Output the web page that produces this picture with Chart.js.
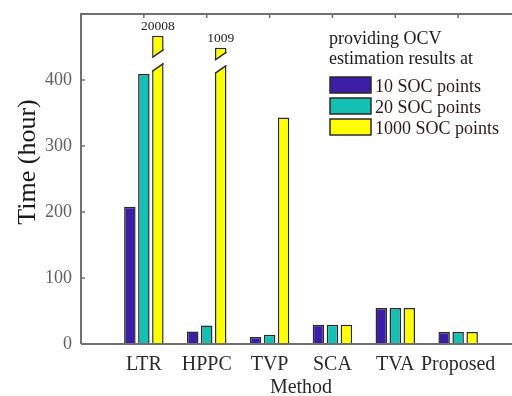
<!DOCTYPE html>
<html>
<head>
<meta charset="utf-8">
<script src="https://cdn.jsdelivr.net/npm/chart.js@4/dist/chart.umd.min.js"></script>
<style>
  html, body { margin: 0; padding: 0; background: #fff; overflow: hidden; }
  #wrap { width: 512px; height: 396px; overflow: hidden; }
  canvas { display: block; }
</style>
</head>
<body>
<div id="wrap"><canvas id="c" width="540" height="396"></canvas></div>
<script>
// ---- data ----
const categories = ['LTR', 'HPPC', 'TVP', 'SCA', 'TVA', 'Proposed'];
const soc10   = [208, 19, 10.5, 29, 54.5, 18];
const soc20   = [409, 28, 14, 29, 54.5, 18];
const soc1000 = [20008, 1009, 343, 29, 54.5, 18];
// broken bars: drawn height on the axis (hours) for values far above the axis
const brokenDrawnTop = { 0: 467, 1: 449 };
const brokenGap = { 0: [419, 440], 1: [416, 436] };
const yTicks = [0, 100, 200, 300, 400];
const seriesLabels = ['10 SOC points', '20 SOC points', '1000 SOC points'];
const legendTitle = ['providing OCV', 'estimation results at'];
const xTitle = 'Method';
const yTitle = 'Time (hour)';

const colors = ['#3c1ea6', '#14bfb3', '#ffff00'];
const edge = '#2a2a2a';
const axisColor = '#707070';
const serif = '"Liberation Serif", "Times New Roman", serif';

const toPts = arr => arr.map((v, i) => ({ x: i + 1, y: v }));
const soc1000Drawn = soc1000.map((v, i) => (i in brokenDrawnTop ? brokenDrawnTop[i] : v));

const decor = {
  id: 'decor',
  afterDatasetsDraw(chart) {
    const ctx = chart.ctx;
    const ys = chart.scales.y;
    const meta = chart.getDatasetMeta(2);
    Object.keys(brokenGap).forEach(k => {
      const i = +k;
      const bar = meta.data[i];
      const p = bar.getProps(['x', 'y', 'width'], true);
      const L = p.x - p.width / 2, R = p.x + p.width / 2;
      const s = 8;
      const yU = ys.getPixelForValue(brokenGap[i][1]);
      const yL = ys.getPixelForValue(brokenGap[i][0]);
      ctx.save();
      ctx.fillStyle = '#fff';
      ctx.beginPath();
      ctx.moveTo(L - 1, yU + s / 2);
      ctx.lineTo(R + 1, yU - s / 2);
      ctx.lineTo(R + 1, yL - s / 2);
      ctx.lineTo(L - 1, yL + s / 2);
      ctx.closePath();
      ctx.fill();
      ctx.strokeStyle = edge;
      ctx.lineWidth = 1.5;
      ctx.beginPath();
      ctx.moveTo(L, yU + s / 2); ctx.lineTo(R, yU - s / 2);
      ctx.moveTo(L, yL + s / 2); ctx.lineTo(R, yL - s / 2);
      ctx.stroke();
      ctx.fillStyle = '#222';
      ctx.font = '13.5px ' + serif;
      ctx.textAlign = 'center';
      ctx.textBaseline = 'alphabetic';
      ctx.fillText(String(soc1000[i]), p.x, p.y - 5.5);
      ctx.restore();
    });
  },
  afterDraw(chart) {
    const ctx = chart.ctx;
    const a = chart.chartArea;
    const xs = chart.scales.x, ys = chart.scales.y;
    ctx.save();
    // frame
    ctx.strokeStyle = axisColor;
    ctx.lineWidth = 2;
    ctx.beginPath();
    ctx.moveTo(a.left, a.bottom); ctx.lineTo(a.right + 20, a.bottom);
    ctx.moveTo(a.left, a.bottom); ctx.lineTo(a.left, a.top);
    ctx.moveTo(a.left - 1, a.top); ctx.lineTo(a.right + 20, a.top);
    ctx.stroke();
    // ticks
    ctx.lineWidth = 1.5;
    ctx.beginPath();
    yTicks.forEach(v => {
      const y = ys.getPixelForValue(v);
      ctx.moveTo(a.left, y); ctx.lineTo(a.left + 4, y);
    });
    categories.forEach((c, i) => {
      const x = xs.getPixelForValue(i + 1);
      ctx.moveTo(x, a.top); ctx.lineTo(x, a.top + 4);
    });
    ctx.stroke();
    // y tick labels
    ctx.fillStyle = '#606060';
    ctx.font = '18px ' + serif;
    ctx.textAlign = 'right';
    ctx.textBaseline = 'middle';
    yTicks.forEach(v => ctx.fillText(String(v), a.left - 9, ys.getPixelForValue(v)));
    // category labels
    ctx.fillStyle = '#2a2a2a';
    ctx.font = '20px ' + serif;
    ctx.textAlign = 'center';
    ctx.textBaseline = 'alphabetic';
    categories.forEach((c, i) => ctx.fillText(c, xs.getPixelForValue(i + 1), a.bottom + 26));
    // x title
    ctx.fillText(xTitle, (a.left + a.right) / 2, a.bottom + 49);
    // y title
    ctx.save();
    ctx.translate(35, 162);
    ctx.rotate(-Math.PI / 2);
    ctx.font = '26px ' + serif;
    ctx.fillStyle = '#1a1a1a';
    ctx.fillText(yTitle, 0, 0);
    ctx.restore();
    // legend
    ctx.fillStyle = '#1a1a1a';
    ctx.font = '18px ' + serif;
    ctx.textAlign = 'left';
    ctx.fillText(legendTitle[0], 329, 43.5);
    ctx.fillText(legendTitle[1], 329, 63.5);
    chart.data.datasets.forEach((ds, k) => {
      const top = 77 + k * 21;
      ctx.fillStyle = ds.backgroundColor;
      ctx.fillRect(330, top, 41, 16);
      ctx.strokeStyle = edge;
      ctx.lineWidth = 1.5;
      ctx.strokeRect(330, top, 41, 16);
      ctx.fillStyle = '#2a1a1a';
      ctx.fillText(ds.label, 375, top + 15);
    });
    ctx.restore();
  }
};

new Chart(document.getElementById('c'), {
  type: 'bar',
  data: {
    datasets: [
      { label: seriesLabels[0], data: toPts(soc10), backgroundColor: colors[0] },
      { label: seriesLabels[1], data: toPts(soc20), backgroundColor: colors[1] },
      { label: seriesLabels[2], data: toPts(soc1000Drawn), backgroundColor: colors[2] }
    ]
  },
  options: {
    responsive: false,
    devicePixelRatio: 1,
    animation: false,
    layout: { padding: { left: 81, right: 19, top: 14, bottom: 52 } },
    datasets: {
      bar: {
        borderColor: edge,
        borderWidth: 1.5,
        categoryPercentage: 0.668,
        barPercentage: 0.82
      }
    },
    scales: {
      x: {
        type: 'linear', min: 0, max: 7, display: false, offset: false,
        afterBuildTicks: s => { s.ticks = categories.map((c, i) => ({ value: i + 1 })); }
      },
      y: { min: 0, max: 500, display: false }
    },
    plugins: { legend: { display: false }, tooltip: { enabled: false } }
  },
  plugins: [decor]
});
</script>
</body>
</html>
